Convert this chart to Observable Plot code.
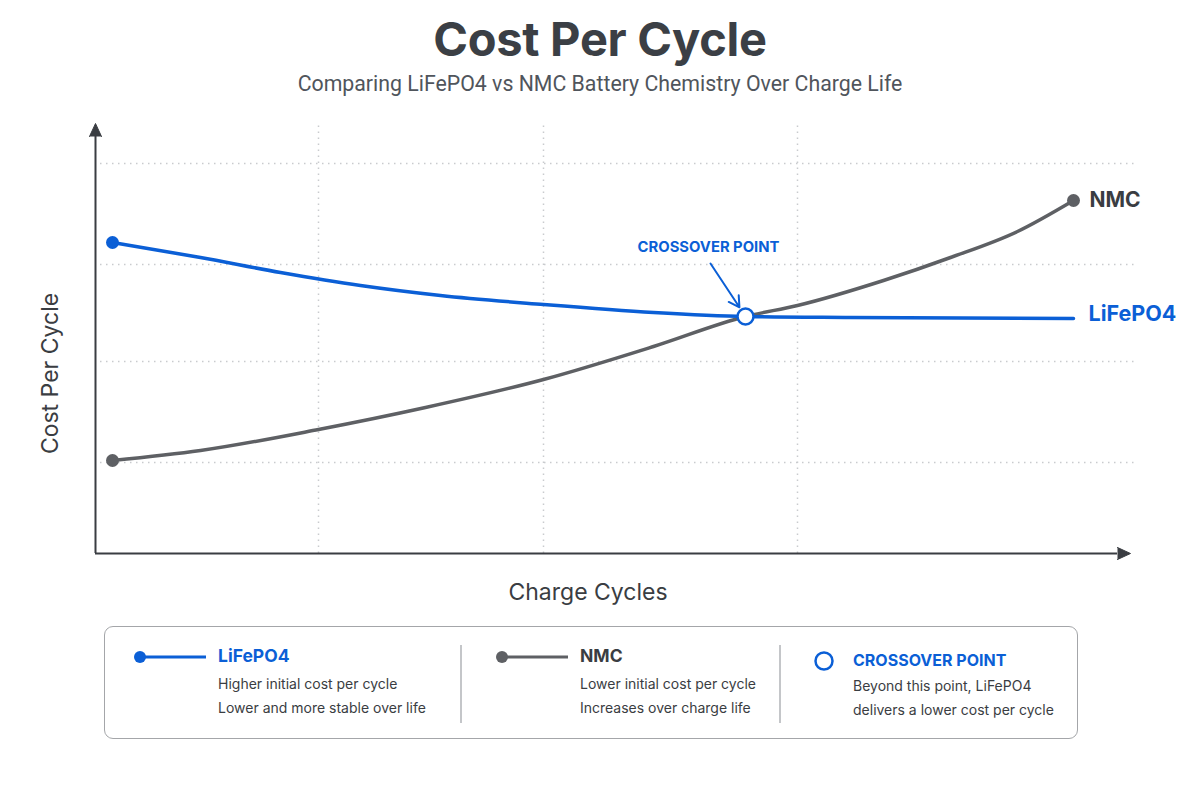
<!DOCTYPE html>
<html>
<head>
<meta charset="utf-8">
<script src="https://cdn.jsdelivr.net/npm/d3@7"></script>
<script src="https://cdn.jsdelivr.net/npm/@observablehq/plot@0.6"></script>
<style>
  html, body { margin: 0; padding: 0; background: #ffffff; }
  #page { position: relative; width: 1200px; height: 800px; font-family: Inter, "Noto Sans", sans-serif; color: #3a3d42; }
  #title { position: absolute; left: 0; width: 1200px; top: 10px; text-align: center; font-size: 47px; font-weight: 700; color: #3b3f45; letter-spacing: -0.3px; }
  #subtitle { position: absolute; left: 0; width: 1200px; top: 71px; text-align: center; font-family: Roboto, Inter, sans-serif; font-size: 21.3px; color: #50555c; }
  #chart { position: absolute; left: 0; top: 110px; }
  #legend { position: absolute; left: 104px; top: 626px; width: 974px; height: 113px; border: 1.5px solid #a4a6a9; border-radius: 9px; box-sizing: border-box; }
  .sep { position: absolute; top: 18px; width: 1.5px; height: 78px; background: #c4c6c9; }
  .name { position: absolute; font-size: 17.5px; font-weight: 700; white-space: nowrap; }
  .desc { position: absolute; font-size: 14px; color: #3a3d42; white-space: nowrap; }
  .icon { position: absolute; }
</style>
</head>
<body>
<div id="page">
  <div id="title">Cost Per Cycle</div>
  <div id="subtitle">Comparing LiFePO4 vs NMC Battery Chemistry Over Charge Life</div>
  <div id="chart"></div>
  <div id="legend"></div>
</div>
<script>
// Charge cycles (hundreds) and cost-per-cycle index for each chemistry
const lfpCycles = [0.17, 1.05, 1.85, 2.65, 3.45, 4.48, 5.58, 6.50, 7.55, 9.78];
const lfpCost   = [3.11, 2.96, 2.81, 2.68, 2.58, 2.49, 2.41, 2.37, 2.36, 2.35];
const nmcCycles = [0.17, 1.05, 2.23, 3.30, 4.48, 5.58, 6.50, 7.02, 7.88, 8.55, 9.22, 9.78];
const nmcCost   = [0.93, 1.03, 1.24, 1.46, 1.74, 2.07, 2.37, 2.48, 2.73, 2.96, 3.22, 3.53];

// Point where the two cost curves meet
const crossoverCycles = 6.50;
const crossoverCost = 2.37;

// Reference grid positions
const gridCycles = [2.23, 4.48, 7.02];
const gridCost = [0.91, 1.92, 2.89, 3.90];

const seriesNames = ["LiFePO4", "NMC"];
const xLabel = "Charge Cycles";
const yLabel = "Cost Per Cycle";
const crossoverLabel = "CROSSOVER POINT";

const legendItems = [
  {name: "LiFePO4", lines: ["Higher initial cost per cycle", "Lower and more stable over life"]},
  {name: "NMC", lines: ["Lower initial cost per cycle", "Increases over charge life"]},
  {name: "CROSSOVER POINT", lines: ["Beyond this point, LiFePO4", "delivers a lower cost per cycle"]}
];

const BLUE = "#0b5fd6";
const GRAY = "#5e6064";
const INK = "#3a3d42";

const lfp = lfpCycles.map((x, i) => ({x, y: lfpCost[i]}));
const nmc = nmcCycles.map((x, i) => ({x, y: nmcCost[i]}));
const crossover = [{x: crossoverCycles, y: crossoverCost}];

const xMax = 10.43, yMax = 4.30;
const axisTopY = 4.18;    // y-axis line ends where its arrowhead starts
const axisEndX = 10.22;   // x-axis line ends where its arrowhead starts

const chart = Plot.plot({
  width: 1200,
  height: 505,
  marginTop: 13,
  marginBottom: 62,
  marginLeft: 95,
  marginRight: 62,
  x: {domain: [0, xMax], axis: null},
  y: {domain: [0, yMax], axis: null},
  style: {background: "transparent", fontFamily: "Inter, 'Noto Sans', sans-serif"},
  marks: [
    // dotted grid
    Plot.ruleY(gridCost, {x1: 0.05, x2: xMax, stroke: "#c9cbce", strokeWidth: 1.5, strokeDasharray: "1.5 4.5"}),
    Plot.ruleX(gridCycles, {y1: 0, y2: yMax - 0.02, stroke: "#c9cbce", strokeWidth: 1.5, strokeDasharray: "1.5 4.5"}),
    // axes with arrowheads
    Plot.ruleX([0], {y1: 0, y2: axisTopY, stroke: INK, strokeWidth: 2}),
    Plot.ruleY([0], {x1: 0, x2: axisEndX, stroke: INK, strokeWidth: 2}),
    Plot.vector([{x: 0, y: yMax}], {x: "x", y: "y", length: 13, rotate: 0, anchor: "end", shape: "spike", r: 6, fill: INK, stroke: INK, strokeWidth: 1}),
    Plot.vector([{x: axisEndX, y: 0}], {x: "x", y: "y", length: 13, rotate: 90, anchor: "start", shape: "spike", r: 6, fill: INK, stroke: INK, strokeWidth: 1}),
    // axis titles
    Plot.text([xLabel], {frameAnchor: "bottom", dx: -29, dy: 46, fontSize: 23, fill: INK}),
    Plot.text([yLabel], {frameAnchor: "left", textAnchor: "middle", rotate: -90, dx: -45, dy: 35, fontSize: 23, fill: INK}),
    // series lines
    Plot.line(nmc, {x: "x", y: "y", stroke: GRAY, strokeWidth: 3.5, curve: "monotone-x"}),
    Plot.line(lfp, {x: "x", y: "y", stroke: BLUE, strokeWidth: 3.5, curve: "monotone-x"}),
    // end points
    Plot.dot([lfp[0]], {x: "x", y: "y", r: 6.5, fill: BLUE}),
    Plot.dot([nmc[0], nmc[nmc.length - 1]], {x: "x", y: "y", r: 6.5, fill: GRAY}),
    // series labels
    Plot.text([nmc[nmc.length - 1]], {x: "x", y: "y", text: () => seriesNames[1], dx: 16, textAnchor: "start", fontSize: 21, fontWeight: 700, fill: INK}),
    Plot.text([lfp[lfp.length - 1]], {x: "x", y: "y", text: () => seriesNames[0], dx: 15, dy: -4, textAnchor: "start", fontSize: 21.5, fontWeight: 700, fill: BLUE}),
    // crossover annotation
    Plot.arrow(crossover, {x1: d => d.x - 0.35, y1: d => d.y + 0.53, x2: "x", y2: "y", insetEnd: 11, headLength: 9, stroke: BLUE, strokeWidth: 2}),
    Plot.dot(crossover, {x: "x", y: "y", r: 8, fill: "white", stroke: BLUE, strokeWidth: 2.5}),
    Plot.text(crossover, {x: "x", y: "y", text: () => crossoverLabel, dx: -37, dy: -69, fontSize: 14.8, fontWeight: 700, fill: BLUE})
  ]
});
document.getElementById("chart").appendChild(chart);

// Legend panel below the chart
const legend = document.getElementById("legend");
const cols = [
  {left: 0, textLeft: 113, color: BLUE, icon: "line"},
  {left: 355, textLeft: 475, color: INK, lineColor: GRAY, icon: "line"},
  {left: 674, textLeft: 748, color: BLUE, icon: "ring"}
];
legendItems.forEach((item, i) => {
  const c = cols[i];
  if (i > 0) {
    const sep = document.createElement("div");
    sep.className = "sep";
    sep.style.left = (c.left) + "px";
    legend.appendChild(sep);
  }
  const ns = "http://www.w3.org/2000/svg";
  const svg = document.createElementNS(ns, "svg");
  svg.setAttribute("class", "icon");
  if (c.icon === "line") {
    const stroke = c.lineColor || c.color;
    svg.setAttribute("width", 80); svg.setAttribute("height", 20);
    svg.style.left = (c.textLeft - 85) + "px"; svg.style.top = "20px";
    const ln = document.createElementNS(ns, "line");
    ln.setAttribute("x1", 6); ln.setAttribute("x2", 73); ln.setAttribute("y1", 10); ln.setAttribute("y2", 10);
    ln.setAttribute("stroke", stroke); ln.setAttribute("stroke-width", 3);
    const dt = document.createElementNS(ns, "circle");
    dt.setAttribute("cx", 7); dt.setAttribute("cy", 10); dt.setAttribute("r", 6); dt.setAttribute("fill", stroke);
    svg.append(ln, dt);
  } else {
    svg.setAttribute("width", 24); svg.setAttribute("height", 24);
    svg.style.left = (c.textLeft - 41) + "px"; svg.style.top = "22px";
    const ring = document.createElementNS(ns, "circle");
    ring.setAttribute("cx", 12); ring.setAttribute("cy", 12); ring.setAttribute("r", 8.5);
    ring.setAttribute("fill", "white"); ring.setAttribute("stroke", c.color); ring.setAttribute("stroke-width", 2.5);
    svg.append(ring);
  }
  legend.appendChild(svg);
  const name = document.createElement("div");
  name.className = "name";
  name.textContent = item.name;
  name.style.left = c.textLeft + "px";
  name.style.top = (i === 2 ? 23 : 18) + "px";
  name.style.fontSize = i === 2 ? "16px" : "17.5px";
  name.style.color = c.color;
  legend.appendChild(name);
  item.lines.forEach((t, j) => {
    const d = document.createElement("div");
    d.className = "desc";
    d.textContent = t;
    d.style.left = c.textLeft + "px";
    d.style.top = ((i === 2 ? 50 : 48) + j * 24) + "px";
    legend.appendChild(d);
  });
});
</script>
</body>
</html>
